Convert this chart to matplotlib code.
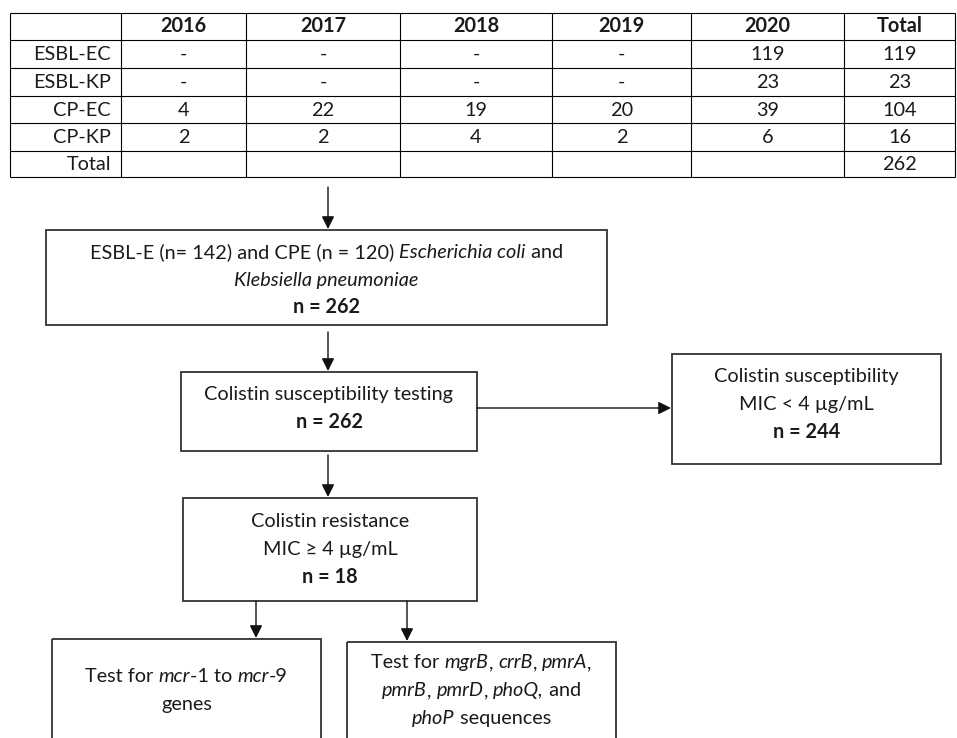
import matplotlib.pyplot as plt
from matplotlib.patches import Rectangle

plt.rcParams['font.family'] = ['Lato', 'DejaVu Sans']

# table data
years = ['2016', '2017', '2018', '2019', '2020']
groups = ['ESBL-EC', 'ESBL-KP', 'CP-EC', 'CP-KP']
counts = [
    ['-', '-', '-', '-', '119'],
    ['-', '-', '-', '-', '23'],
    ['4', '22', '19', '20', '39'],
    ['2', '2', '4', '2', '6'],
]
row_totals = [119, 23, 104, 16]
grand_total = 262

# flowchart texts: each line is a list of (text, style) runs, n=normal i=italic b=bold
node_start = [
    [('ESBL-E (n= 142) and CPE (n = 120) ', 'n'), ('Escherichia coli', 'i'), (' and', 'n')],
    [('Klebsiella pneumoniae', 'i')],
    [('n = 262', 'b')],
]
node_testing = [
    [('Colistin susceptibility testing', 'n')],
    [('n = 262', 'b')],
]
node_susceptible = [
    [('Colistin susceptibility', 'n')],
    [('MIC < 4 \u00b5g/mL', 'n')],
    [('n = 244', 'b')],
]
node_resistant = [
    [('Colistin resistance', 'n')],
    [('MIC \u2265 4 \u00b5g/mL', 'n')],
    [('n = 18', 'b')],
]
node_mcr = [
    [('Test for ', 'n'), ('mcr', 'i'), ('-1 to ', 'n'), ('mcr', 'i'), ('-9', 'n')],
    [('genes', 'n')],
]
node_chrom = [
    [('Test for ', 'n'), ('mgrB', 'i'), (', ', 'n'), ('crrB', 'i'), (', ', 'n'), ('pmrA', 'i'), (',', 'n')],
    [('pmrB', 'i'), (', ', 'n'), ('pmrD', 'i'), (', ', 'n'), ('phoQ,', 'i'), (' and', 'n')],
    [('phoP', 'i'), (' sequences', 'n')],
]

FS = 14.3
TXT = '#1a1a1a'
EDGE = '#333333'

fig = plt.figure(figsize=(9.57, 7.38), dpi=100)
ax = fig.add_axes([0, 0, 1, 1])
ax.set_xlim(0, 957)
ax.set_ylim(738, 0)
ax.axis('off')
renderer = fig.canvas.get_renderer()


def style_kw(style):
    return dict(fontsize=FS, color=TXT,
                fontstyle='italic' if style == 'i' else 'normal',
                fontweight='bold' if style == 'b' else 'normal')


def run_width(s, style):
    kw = style_kw(style)
    t = ax.text(0, 0, '|' + s + '|', **kw)
    w1 = t.get_window_extent(renderer).width
    t.remove()
    t = ax.text(0, 0, '||', **kw)
    w0 = t.get_window_extent(renderer).width
    t.remove()
    return w1 - w0


def rich_line(xc, yc, runs):
    widths = [run_width(s, st) for s, st in runs]
    x = xc - sum(widths) / 2
    for (s, st), w in zip(runs, widths):
        ax.text(x, yc + 6, s, ha='left', va='baseline', **style_kw(st))
        x += w


def node(x0, y0, x1, y1, lines, ys):
    ax.add_patch(Rectangle((x0, y0), x1 - x0, y1 - y0, fill=False,
                           edgecolor=EDGE, lw=1.3, zorder=2))
    xc = (x0 + x1) / 2
    for runs, y in zip(lines, ys):
        rich_line(xc, y, runs)


def arrow(x0, y0, x1, y1):
    ax.annotate('', xy=(x1, y1), xytext=(x0, y0),
                arrowprops=dict(arrowstyle='-|>', color='#111111', lw=1.0,
                                mutation_scale=19, shrinkA=0, shrinkB=0))


# ---- table ----
col_edges = [10, 121, 246, 400, 552, 691, 844, 955]
row_edges = [13, 40, 68, 96, 123, 151, 177]
ax.hlines(row_edges, col_edges[0], col_edges[-1], color='black', lw=0.8)
ax.vlines(col_edges, row_edges[0], row_edges[-1], color='black', lw=0.8)

row_mid = [(a + b) / 2 for a, b in zip(row_edges[:-1], row_edges[1:])]
col_mid = [(a + b) / 2 for a, b in zip(col_edges[:-1], col_edges[1:])]

for j, yr in enumerate(years + ['Total']):
    ax.text(col_mid[j + 1], row_mid[0] + 6, yr, ha='center', va='baseline',
            fontsize=FS, fontweight='bold', color=TXT)
for i, g in enumerate(groups + ['Total']):
    ax.text(col_edges[1] - 10, row_mid[i + 1] + 6, g, ha='right', va='baseline',
            fontsize=FS, color=TXT)
for i, row in enumerate(counts):
    for j, v in enumerate(row):
        ax.text(col_mid[j + 1], row_mid[i + 1] + 6, v, ha='center', va='baseline',
                fontsize=FS, color=TXT)
    ax.text(col_mid[-1], row_mid[i + 1] + 6, str(row_totals[i]), ha='center',
            va='baseline', fontsize=FS, color=TXT)
ax.text(col_mid[-1], row_mid[-1] + 6, str(grand_total), ha='center', va='baseline',
        fontsize=FS, color=TXT)

# ---- flowchart ----
node(46, 230, 607, 325, node_start, [252, 280, 307])
node(181, 372, 477, 451, node_testing, [394, 422])
node(672, 354, 941, 464, node_susceptible, [376, 404, 432])
node(183, 498, 477, 601, node_resistant, [521, 549, 577])
node(52, 639, 321, 760, node_mcr, [676, 704])
node(347, 642, 616, 760, node_chrom, [662, 690, 718])

arrow(328, 187, 328, 229)
arrow(328, 332, 328, 371)
arrow(477, 408, 671, 408)
arrow(328, 455, 328, 497)
arrow(256, 601, 256, 638)
arrow(407, 601, 407, 641)

fig.savefig('out.png', dpi=100)
